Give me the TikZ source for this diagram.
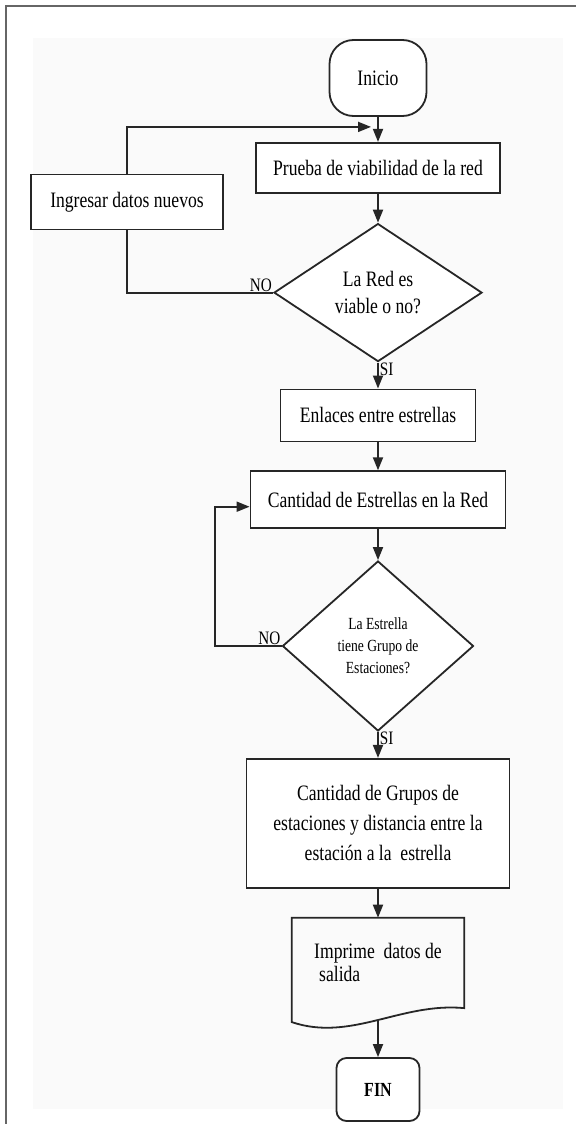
\documentclass[tikz,border=0pt]{standalone}
\usepackage{fontspec}
\setmainfont[FakeStretch=0.8]{Liberation Serif}
\usetikzlibrary{positioning,shapes.geometric,arrows.meta,calc}

\tikzset{
  outline/.style={draw=black!85, line width=1.8pt},
  flow/.style={outline, -{Triangle[length=13pt,width=10pt]}},
  process/.style={rectangle, outline, fill=white, align=center, inner sep=2pt,
    font=\fontsize{22}{30}\selectfont},
  terminal/.style={process},
  decision/.style={diamond, outline, fill=white, align=center, inner sep=0pt,
    font=\fontsize{22}{27}\selectfont},
  doc/.style={rectangle, align=left, inner sep=2pt, font=\fontsize{22}{23}\selectfont},
  answer/.style={inner sep=1pt, font=\fontsize{19}{19}\selectfont}
}

\begin{document}
\begin{tikzpicture}[node distance=25pt]
\useasboundingbox (0,0) rectangle (576pt,-1124pt);
\fill [black!2] (33pt,-38pt) rectangle (563pt,-1109pt);
\draw [black!60, line width=2pt] (6pt,-1124pt) -- (6pt,-6pt) -- (576pt,-6pt);

\node [terminal, minimum width=97pt, minimum height=76pt, rounded corners=24pt] (inicio) at (378pt,-78pt) {Inicio};
\node [process, minimum width=244pt, minimum height=50pt] (prueba) [below=25pt of inicio] {Prueba de viabilidad de la red};
\node [decision, minimum width=208pt, minimum height=138pt, aspect=1.5] (red) [below=29pt of prueba] {La Red es\\viable o no?};
\node [process, minimum width=195pt, minimum height=52pt] (enlaces) [below=26pt of red] {Enlaces entre estrellas};
\node [process, minimum width=255pt, minimum height=57pt] (estrellas) [below=28pt of enlaces] {Cantidad de Estrellas en la Red};
\node [decision, minimum width=191pt, minimum height=170pt, aspect=1.12,
  font=\fontsize{17}{22}\selectfont] (grupo) [below=31pt of estrellas] {La Estrella\\tiene Grupo de\\Estaciones?};
\node [process, minimum width=263pt, minimum height=129pt] (cantgrupos) [below=26pt of grupo] {Cantidad de Grupos de\\estaciones y distancia entre la\\estación a la\ \ estrella};
\node [doc, minimum width=172pt, minimum height=90pt] (imprime) [below=29pt of cantgrupos] {Imprime\ \ datos de\\\hspace{5pt}salida};
\node [terminal, minimum width=83pt, minimum height=63pt, rounded corners=10pt,
  font=\fontsize{20}{24}\selectfont\bfseries] (fin) [below=49pt of imprime] {FIN};
\node [process, minimum width=192pt, minimum height=55pt] (ingresar) at (127pt,-202pt) {Ingresar datos nuevos};

% hoja impresa
\draw [outline] (imprime.south west) -- (imprime.north west) -- (imprime.north east) -- (imprime.south east)
  .. controls ($(imprime.south east)+(-63pt,6pt)$) and ($(imprime.south west)+(59pt,-34pt)$) .. ($(imprime.south west)+(0,-14pt)$)
  coordinate [pos=0.5] (wave) -- cycle;

\draw [flow] (inicio) -- (prueba);
\draw [flow] (prueba) -- (red);
\draw [flow] (red) -- node [answer, near start, right] {SI} (enlaces);
\draw [flow] (enlaces) -- (estrellas);
\draw [flow] (estrellas) -- (grupo);
\draw [flow] (grupo) -- node [answer, near start, right] {SI} (cantgrupos);
\draw [flow] (cantgrupos) -- (imprime);
\draw [flow] (wave -| fin.north) -- (fin);

% lazo NO de la red
\coordinate (merge) at ($(inicio.south)!0.4!(prueba.north)$);
\draw [outline] (red.west) -| (ingresar.south);
\draw [flow] (ingresar.north) |- ([xshift=-7pt]merge);
\node [answer, above left] at (red.west) {NO};

% lazo NO de la estrella
\coordinate (back) at ($(grupo.west)+(-67pt,0)$);
\draw [flow] (grupo.west) -- (back) |- ([yshift=-7pt]estrellas.west);
\node [answer, above left] at (grupo.west) {NO};
\end{tikzpicture}
\end{document}
